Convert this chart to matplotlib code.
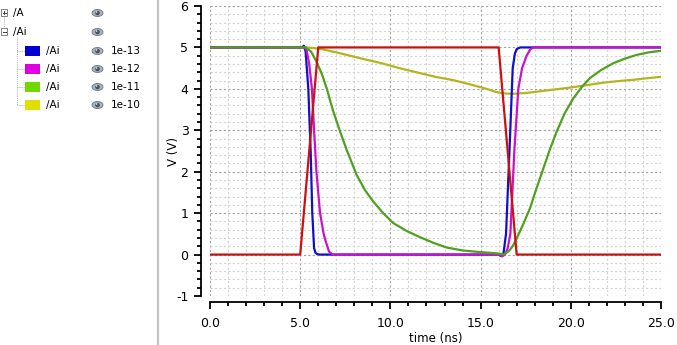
import matplotlib.pyplot as plt
from matplotlib.patches import Rectangle, Ellipse
from matplotlib.ticker import MultipleLocator

# input signal /A
t_a = [0, 5, 6, 16, 17, 25]
v_a = [0, 0, 5, 5, 0, 0]

# /Ai for the four load values
t_13 = [0, 5.1, 5.2, 5.3, 5.45, 5.58, 5.67, 5.77, 5.85, 5.95, 6.1, 16.0, 16.15,
        16.26, 16.41, 16.6, 16.78, 16.9, 17.0, 17.2, 25]
v_13 = [5, 5.0, 5.04, 4.9, 4.0, 2.5, 1.0, 0.15, 0.04, 0.01, 0, 0, -0.04,
        0.0, 0.5, 2.5, 4.5, 4.85, 4.96, 5.0, 5.0]

t_12 = [0, 5.2, 5.35, 5.5, 5.65, 5.77, 5.9, 6.1, 6.3, 6.43, 6.6, 6.8, 16.0, 16.2,
        16.35, 16.5, 16.65, 16.87, 17.09, 17.3, 17.55, 17.75, 17.92, 25]
v_12 = [5, 5, 4.95, 4.6, 4.0, 3.0, 2.0, 1.0, 0.5, 0.3, 0.07, 0, 0, -0.04,
        0.0, 0.15, 0.5, 2.5, 4.0, 4.5, 4.8, 4.95, 5, 5]

t_11 = [0, 5.3, 5.6, 5.9, 6.2, 6.47, 6.8, 7.21, 7.6, 8.13, 8.6, 9.05, 9.6,
        10.16, 10.9, 11.64, 12.4, 13.12, 14.0, 14.97, 15.6, 16.08, 16.3, 16.6,
        16.8, 17.0, 17.35, 17.74, 18.1, 18.48, 18.85, 19.22, 19.65, 20.14,
        20.6, 21.06, 21.7, 22.36, 23.0, 23.65, 24.3, 25]
v_11 = [5, 5.0, 4.9, 4.66, 4.36, 4.01, 3.5, 2.97, 2.5, 1.92, 1.55, 1.28, 1.0,
        0.76, 0.57, 0.42, 0.28, 0.17, 0.1, 0.06, 0.04, 0.02, 0.0, 0.1,
        0.22, 0.39, 0.72, 1.12, 1.6, 2.08, 2.55, 2.97, 3.4, 3.77,
        4.04, 4.26, 4.46, 4.62, 4.73, 4.82, 4.88, 4.92]

t_10 = [0, 5.2, 5.6, 6.2, 7.0, 7.58, 8.5, 9.5, 10.5, 11.64, 12.5, 13.49, 14.4,
        15.33, 15.89, 16.3, 16.8, 17.5, 18.1, 19.0, 19.96, 20.9, 21.8, 22.7,
        23.5, 24.3, 25]
v_10 = [5, 5.0, 4.99, 4.96, 4.88, 4.82, 4.72, 4.62, 4.5, 4.38, 4.29, 4.21, 4.11,
        4.0, 3.92, 3.89, 3.88, 3.9, 3.93, 3.98, 4.03, 4.09, 4.15, 4.19,
        4.22, 4.26, 4.29]

params = ["1e-13", "1e-12", "1e-11", "1e-10"]
swatch_colors = ["#0000d0", "#e000e0", "#70d800", "#e0e000"]
line_colors = ["#1010c8", "#cc10cc", "#50a020", "#b4b420"]
red = "#cc1010"

W, H = 677, 345
fig = plt.figure(figsize=(W / 100, H / 100), dpi=100)
fig.patch.set_facecolor("white")

# ---- signal browser panel on the left, in pixel coordinates ----
side = fig.add_axes([0, 0, 1, 1])
side.set_xlim(0, W)
side.set_ylim(H, 0)
side.axis("off")

side.plot([157.5, 157.5], [0, H], color="#c4c4c4", lw=1.6)

def expander(y, plus):
    side.add_patch(Rectangle((1, y - 3.5), 6, 7, fill=False, ec="#808080", lw=0.7))
    side.plot([2.5, 5.5], [y, y], color="#404040", lw=0.7)
    if plus:
        side.plot([4, 4], [y - 1.5, y + 1.5], color="#404040", lw=0.7)

def eye(y):
    side.add_patch(Ellipse((97.5, y), 11, 7, fc="#a8b2be", ec="#6c7886", lw=0.6))
    side.add_patch(Ellipse((97.5, y), 4.5, 4.5, fc="#48505e", ec="none"))
    side.add_patch(Ellipse((96.6, y - 1), 1.5, 1.5, fc="white", ec="none"))

txt = dict(fontsize=7.5, va="center", color="black", family="DejaVu Sans")
expander(12.5, True)
side.text(13, 13, "/A", **txt)
eye(13)
side.plot([4, 4], [17, 28], color="#909090", lw=0.6, ls=(0, (1, 1.5)))
expander(31.5, False)
side.text(13, 32, "/Ai", **txt)
eye(32)
side.plot([17, 17], [37, 105], color="#909090", lw=0.6, ls=(0, (1, 1.5)))

for i, (p, c) in enumerate(zip(params, swatch_colors)):
    y = 51 + i * 18
    side.plot([17, 24], [y, y], color="#909090", lw=0.6, ls=(0, (1, 1.5)))
    side.add_patch(Rectangle((25, y - 5), 14.5, 10, fc=c, ec="none"))
    side.text(46, y, "/Ai", **txt)
    eye(y)
    side.text(111, y, p, **txt)

# ---- waveform plot ----
ax = fig.add_axes([210 / W, 49 / H, 451 / W, 290 / H])
ax.set_xlim(0, 25)
ax.set_ylim(-1, 6)

ax.xaxis.set_major_locator(MultipleLocator(5))
ax.xaxis.set_minor_locator(MultipleLocator(1))
ax.yaxis.set_major_locator(MultipleLocator(1))
ax.yaxis.set_minor_locator(MultipleLocator(0.2))
ax.xaxis.set_major_formatter(plt.FuncFormatter(lambda x, p: f"{x:.1f}"))
ax.yaxis.set_major_formatter(plt.FuncFormatter(lambda y, p: f"{y:.0f}"))

ax.grid(which="major", color="#a0a0a0", lw=0.8, ls=(0, (2, 2)))
ax.grid(which="minor", color="#d4d4d4", lw=0.8, ls=(0, (2, 2)))
for gl in ax.get_xgridlines() + ax.get_ygridlines():
    gl.set_clip_on(False)

for s in ["top", "right"]:
    ax.spines[s].set_visible(False)
ax.spines["left"].set_position(("outward", 6.5))
ax.spines["bottom"].set_position(("outward", 4.3))
ax.spines["left"].set_linewidth(1.3)
ax.spines["bottom"].set_linewidth(1.3)

ax.tick_params(which="major", length=5, width=1.3, labelsize=9, pad=4)
ax.tick_params(which="minor", length=3, width=1.3)
ax.tick_params(axis="x", pad=6)

lw = 1.6
ax.plot(t_13, v_13, color=line_colors[0], lw=lw, zorder=3)
ax.plot(t_12, v_12, color=line_colors[1], lw=lw, zorder=3)
ax.plot(t_11, v_11, color=line_colors[2], lw=lw, zorder=3)
ax.plot(t_10, v_10, color=line_colors[3], lw=lw, zorder=2.9)
ax.plot(t_a, v_a, color=red, lw=lw, zorder=3.5)

ax.set_xlabel("time (ns)", fontsize=8.5, labelpad=1)
ax.set_ylabel("V (V)", fontsize=8.5, labelpad=-3)

fig.savefig("out.png", dpi=100)
